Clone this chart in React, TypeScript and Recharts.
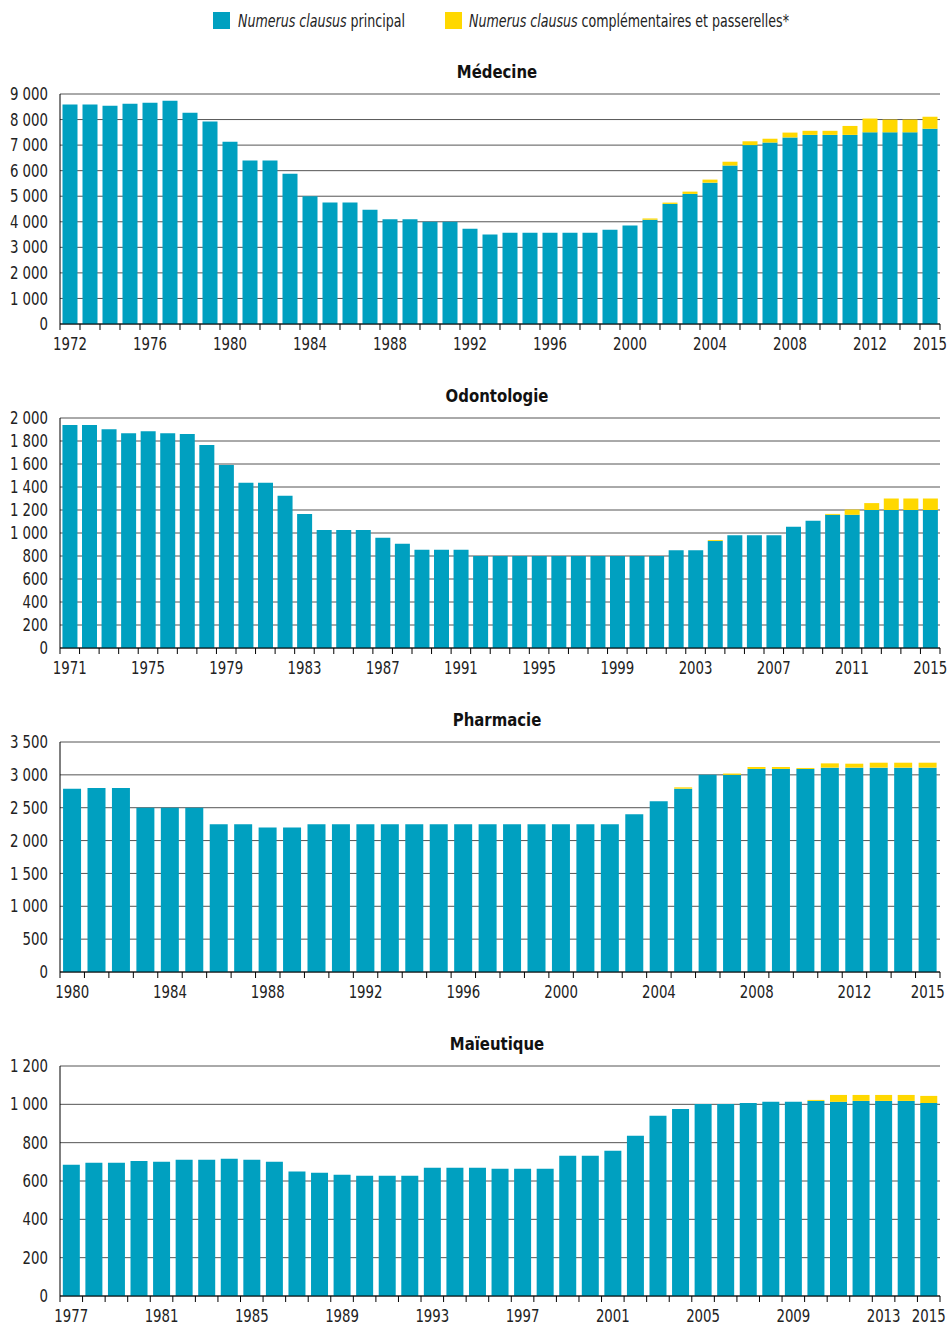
import React from "react";
import { BarChart, Bar, XAxis, YAxis, CartesianGrid } from "recharts";

const BLUE = "#00A0C0";
const YELLOW = "#FFD800";
const FONT = "'DejaVu Sans Condensed', 'DejaVu Sans', sans-serif";
const SQUEEZE = 0.87;

// Médecine
const medYears = [1972,1973,1974,1975,1976,1977,1978,1979,1980,1981,1982,1983,1984,1985,1986,1987,1988,1989,1990,1991,1992,1993,1994,1995,1996,1997,1998,1999,2000,2001,2002,2003,2004,2005,2006,2007,2008,2009,2010,2011,2012,2013,2014,2015];
const medPrincipal = [8588,8588,8540,8620,8660,8740,8270,7920,7130,6400,6400,5880,5000,4750,4750,4470,4100,4100,4000,4000,3730,3500,3570,3570,3570,3570,3570,3690,3850,4080,4700,5090,5530,6200,7000,7100,7300,7400,7400,7400,7500,7500,7500,7640];
const medComplement = [0,0,0,0,0,0,0,0,0,0,0,0,0,0,0,0,0,0,0,0,0,0,0,0,0,0,0,0,0,50,50,90,120,150,150,150,190,160,160,350,540,500,500,470];
const medTicks = [0,1000,2000,3000,4000,5000,6000,7000,8000,9000];

// Odontologie
const odoYears = [1971,1972,1973,1974,1975,1976,1977,1978,1979,1980,1981,1982,1983,1984,1985,1986,1987,1988,1989,1990,1991,1992,1993,1994,1995,1996,1997,1998,1999,2000,2001,2002,2003,2004,2005,2006,2007,2008,2009,2010,2011,2012,2013,2014,2015];
const odoPrincipal = [1939,1939,1902,1867,1884,1867,1861,1766,1592,1436,1436,1323,1166,1027,1027,1027,958,906,854,854,854,800,800,800,800,800,800,800,800,800,800,850,850,930,980,980,980,1054,1106,1158,1158,1200,1200,1200,1200];
const odoComplement = [0,0,0,0,0,0,0,0,0,0,0,0,0,0,0,0,0,0,0,0,0,0,0,0,0,0,0,0,0,0,0,0,0,8,0,0,0,0,0,8,46,60,100,100,100];
const odoTicks = [0,200,400,600,800,1000,1200,1400,1600,1800,2000];

// Pharmacie
const phaYears = [1980,1981,1982,1983,1984,1985,1986,1987,1988,1989,1990,1991,1992,1993,1994,1995,1996,1997,1998,1999,2000,2001,2002,2003,2004,2005,2006,2007,2008,2009,2010,2011,2012,2013,2014,2015];
const phaPrincipal = [2787,2800,2800,2500,2500,2500,2250,2250,2200,2200,2250,2250,2250,2250,2250,2250,2250,2250,2250,2250,2250,2250,2250,2400,2600,2790,3000,3000,3090,3090,3090,3110,3110,3110,3110,3110];
const phaComplement = [0,0,0,0,0,0,0,0,0,0,0,0,0,0,0,0,0,0,0,0,0,0,0,0,0,20,0,20,30,30,15,65,60,75,75,75];
const phaTicks = [0,500,1000,1500,2000,2500,3000,3500];

// Maïeutique
const maiYears = [1977,1978,1979,1980,1981,1982,1983,1984,1985,1986,1987,1988,1989,1990,1991,1992,1993,1994,1995,1996,1997,1998,1999,2000,2001,2002,2003,2004,2005,2006,2007,2008,2009,2010,2011,2012,2013,2014,2015];
const maiPrincipal = [685,695,695,704,700,711,711,716,711,700,649,643,633,628,628,628,669,669,669,664,664,664,732,732,758,836,940,976,1002,1002,1007,1013,1013,1018,1013,1018,1018,1018,1007];
const maiComplement = [0,0,0,0,0,0,0,0,0,0,0,0,0,0,0,0,0,0,0,0,0,0,0,0,0,0,0,0,0,0,0,0,0,5,36,31,31,31,37];
const maiTicks = [0,200,400,600,800,1000,1200];

const PLOT_LEFT = 60;
const PLOT_RIGHT = 940;
const PLOT_W = PLOT_RIGHT - PLOT_LEFT;

function fmt(v: number): string {
  return String(v).replace(/\B(?=(\d{3})+(?!\d))/g, "\u00A0");
}

const renderYTick = (props: any) => {
  const { x, y, payload } = props;
  return (
    <text
      transform={`translate(${x},${y}) scale(${SQUEEZE},1)`}
      x={0}
      y={0}
      dy="0.36em"
      textAnchor="end"
      fontSize={17}
      fontFamily={FONT}
      fill="#222"
    >
      {fmt(payload.value)}
    </text>
  );
};

type PanelProps = {
  title: string;
  years: number[];
  principal: number[];
  complement: number[];
  ticks: number[];
  plotTop: number;
};

function Panel({ title, years, principal, complement, ticks, plotTop }: PanelProps) {
  const data = years.map((y, i) => ({ year: String(y), principal: principal[i], complement: complement[i] }));
  const n = years.length;
  const band = PLOT_W / n;
  const renderTick = (props: any) => {
    const { x, y, index, payload } = props;
    const showLabel = index % 4 === 0 || index === n - 1;
    return (
      <g>
        <line x1={x - band / 2} x2={x - band / 2} y1={y} y2={y + 6} stroke="#000" strokeWidth={1} />
        {index === n - 1 && (
          <line x1={x + band / 2} x2={x + band / 2} y1={y} y2={y + 6} stroke="#000" strokeWidth={1} />
        )}
        {showLabel && (
          <text
            transform={`translate(${x},${y + 26}) scale(${SQUEEZE},1)`}
            x={0}
            y={0}
            textAnchor="middle"
            fontSize={17}
            fontFamily={FONT}
            fill="#222"
          >
            {payload.value}
          </text>
        )}
      </g>
    );
  };
  return (
    <>
      <div
        style={{
          position: "absolute",
          left: 0,
          width: 994,
          top: plotTop - 32,
          textAlign: "center",
          fontFamily: FONT,
          fontWeight: "bold",
          fontSize: 18,
          color: "#111",
          lineHeight: "20px",
          transform: "scaleX(0.92)",
          transformOrigin: "497px 0",
        }}
      >
        {title}
      </div>
      <div style={{ position: "absolute", left: 0, top: plotTop - 10 }}>
        <BarChart
          width={949}
          height={270}
          data={data}
          margin={{ top: 10, right: 949 - PLOT_RIGHT, left: 0, bottom: 0 }}
          barCategoryGap="12.5%"
        >
          <CartesianGrid vertical={false} stroke="#555" strokeWidth={1} />
          <XAxis
            dataKey="year"
            interval={0}
            height={30}
            tickLine={false}
            tickSize={0}
            tickMargin={0}
            axisLine={{ stroke: "#000", strokeWidth: 1 }}
            tick={renderTick}
          />
          <YAxis
            width={PLOT_LEFT}
            domain={[ticks[0], ticks[ticks.length - 1]]}
            ticks={ticks}
            interval={0}
            tickLine={false}
            tickSize={6}
            tickMargin={6}
            axisLine={{ stroke: "#000", strokeWidth: 1 }}
            tick={renderYTick}
          />
          <Bar dataKey="principal" stackId="a" fill={BLUE} isAnimationActive={false} />
          <Bar dataKey="complement" stackId="a" fill={YELLOW} isAnimationActive={false} />
        </BarChart>
      </div>
    </>
  );
}

const legendText: React.CSSProperties = {
  position: "absolute",
  top: 11,
  fontFamily: FONT,
  fontSize: 17,
  lineHeight: "20px",
  color: "#222",
  whiteSpace: "nowrap",
  transform: "scaleX(0.825)",
  transformOrigin: "0 0",
};

export default function App() {
  return (
    <div style={{ position: "absolute", left: 0, top: 0, width: 949, height: 1326, background: "#fff" }}>
      <div style={{ position: "absolute", left: 213, top: 12, width: 17, height: 17, background: BLUE }} />
      <div style={{ ...legendText, left: 238 }}>
        <i>Numerus clausus</i> principal
      </div>
      <div style={{ position: "absolute", left: 445, top: 12, width: 17, height: 17, background: YELLOW }} />
      <div style={{ ...legendText, left: 469 }}>
        <i>Numerus clausus</i> complémentaires et passerelles*
      </div>
      <Panel title="Médecine" years={medYears} principal={medPrincipal} complement={medComplement} ticks={medTicks} plotTop={94} />
      <Panel title="Odontologie" years={odoYears} principal={odoPrincipal} complement={odoComplement} ticks={odoTicks} plotTop={418} />
      <Panel title="Pharmacie" years={phaYears} principal={phaPrincipal} complement={phaComplement} ticks={phaTicks} plotTop={742} />
      <Panel title="Maïeutique" years={maiYears} principal={maiPrincipal} complement={maiComplement} ticks={maiTicks} plotTop={1066} />
    </div>
  );
}
